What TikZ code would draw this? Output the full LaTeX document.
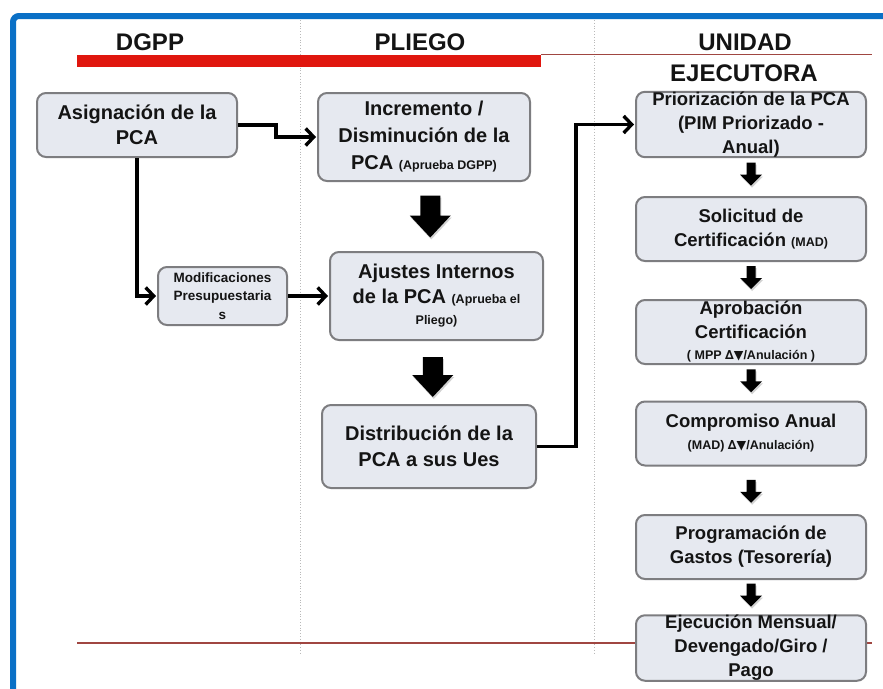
\documentclass[tikz,border=0pt]{standalone}
\usepackage{fontspec}
\setmainfont{Liberation Sans}
\newfontfamily\symfont{DejaVu Sans}
\usetikzlibrary{arrows.meta,shadows,calc}
\definecolor{frameblue}{RGB}{10,112,198}
\definecolor{barred}{RGB}{224,22,14}
\definecolor{linered}{RGB}{160,70,65}
\definecolor{boxfill}{RGB}{230,233,240}
\definecolor{boxdraw}{RGB}{125,125,128}
\definecolor{txt}{RGB}{20,20,20}
\newcommand\fszS{\fontsize{12.5}{14}\selectfont}
% #1 upper node, #2 lower node, #3 shaft width, #4 head width, #5 length, #6 head length, #7 vertical offset
\newcommand\BArrow[7]{\fill[blockarr, shift={($(#1.south)!0.5!(#2.north)$)}]
  ({-#3/2},{#7-#5/2}) -- ({#3/2},{#7-#5/2}) -- ({#3/2},{#7+#5/2-#6}) -- ({#4/2},{#7+#5/2-#6})
  -- (0,{#7+#5/2}) -- ({-#4/2},{#7+#5/2-#6}) -- ({-#3/2},{#7+#5/2-#6}) -- cycle;}
\begin{document}
\begin{tikzpicture}[x=1pt,y=-1pt,
  box/.style={draw=boxdraw, line width=2pt, fill=boxfill, rounded corners=9pt, align=center, inner sep=0pt, text=txt},
  conn/.style={line width=3.8pt, -{Straight Barb[length=8pt,width=17pt,line width=3.4pt]}, shorten >=1pt},
  blockarr/.style={fill=black, drop shadow={opacity=0.35, shadow xshift=1pt, shadow yshift=-2pt}},
  hdr/.style={font=\bfseries\fontsize{24}{26}\selectfont, anchor=base, text=txt},
  sep/.style={draw=gray!55, line width=0.8pt, dotted}
]
\useasboundingbox (0,0) rectangle (883,688);
\fill[white] (0,0) rectangle (883,688);
% frame
\draw[frameblue, line width=6pt, rounded corners=6pt] (13,16) rectangle (920,730);
% lane separators
\draw[sep] (300,20) -- (300,655);
\draw[sep] (594,20) -- (594,655);
% header lines
\fill[barred] (77,55) rectangle (541,67);
\draw[linered, line width=1.2pt] (541,54.5) -- (872,54.5);
\draw[linered, line width=1.6pt] (77,643) -- (872,643);
% headers
\node[hdr] (hd) at (150,50) {DGPP};
\node[hdr] (hp) at (420,50) {PLIEGO};
\node[hdr] (hu) at (745,50) {UNIDAD};
\node[hdr] (he) at (744,81) {EJECUTORA};
% DGPP / PLIEGO boxes
\node[box, font=\bfseries\fontsize{20}{25}\selectfont, minimum width=200pt, minimum height=64pt] (asig) at (137,125) {Asignación de la\\PCA};
\node[box, font=\bfseries\fontsize{13.5}{18.5}\selectfont, minimum width=129pt, minimum height=58pt] (modif) at (222.5,296) {Modificaciones\\Presupuestaria\\s};
\node[box, font=\bfseries\fontsize{20}{27}\selectfont, minimum width=212pt, minimum height=88pt] (inc) at (424,137) {Incremento /\\Disminución de la\\PCA {\fszS (Aprueba DGPP)}};
\node[box, font=\bfseries\fontsize{20}{25}\selectfont, minimum width=213pt, minimum height=88pt] (aju) at (436.5,296) {Ajustes Internos\\de la PCA {\fszS (Aprueba el}\\[-4pt]{\fszS Pliego)}};
\node[box, font=\bfseries\fontsize{20}{26}\selectfont, minimum width=214pt, minimum height=83pt] (dist) at (429,446.5) {Distribución de la\\PCA a sus Ues};
% UNIDAD EJECUTORA boxes
\begin{scope}[every node/.append style={box, font=\bfseries\fontsize{18.5}{24}\selectfont, minimum width=230pt, minimum height=64pt}]
\node (prio) at (751,124.5) {Priorización de la PCA\\(PIM Priorizado -\\Anual)};
\node (sol) at (751,229) {Solicitud de\\Certificación {\fszS (MAD)}};
\node (apr) at (751,332) {Aprobación\\Certificación\\[-3pt]{\fszS ( MPP {\symfont ∆▼}/Anulación )}};
\node (comp) at (751,433.5) {Compromiso Anual\\[-2pt]{\fszS (MAD) {\symfont ∆▼}/Anulación)}};
\node (prog) at (751,547) {Programación de\\Gastos (Tesorería)};
\node (ejec) at (751,648) {Ejecución Mensual/\\Devengado/Giro /\\Pago};
\end{scope}
% connectors
\draw[conn] (asig.east) -- ++(38,0) |- (inc.west);
\draw[conn] (asig.south) |- (modif.west);
\draw[conn] (modif.east) -- (modif.east -| aju.west);
\draw[conn] (dist.east) -- ++(39,0) |- (prio.west);
% block arrows
\BArrow{inc}{aju}{20}{41}{42}{22}{0}
\BArrow{aju}{dist}{20}{41}{40}{22}{4.5}
\BArrow{prio}{sol}{9}{22}{23}{11}{-3}
\BArrow{sol}{apr}{9}{22}{23}{11}{-3}
\BArrow{apr}{comp}{9}{22}{23}{11}{-2}
\BArrow{comp}{prog}{9}{22}{23}{11}{1}
\BArrow{prog}{ejec}{9}{22}{23}{11}{-2}
\end{tikzpicture}
\end{document}
